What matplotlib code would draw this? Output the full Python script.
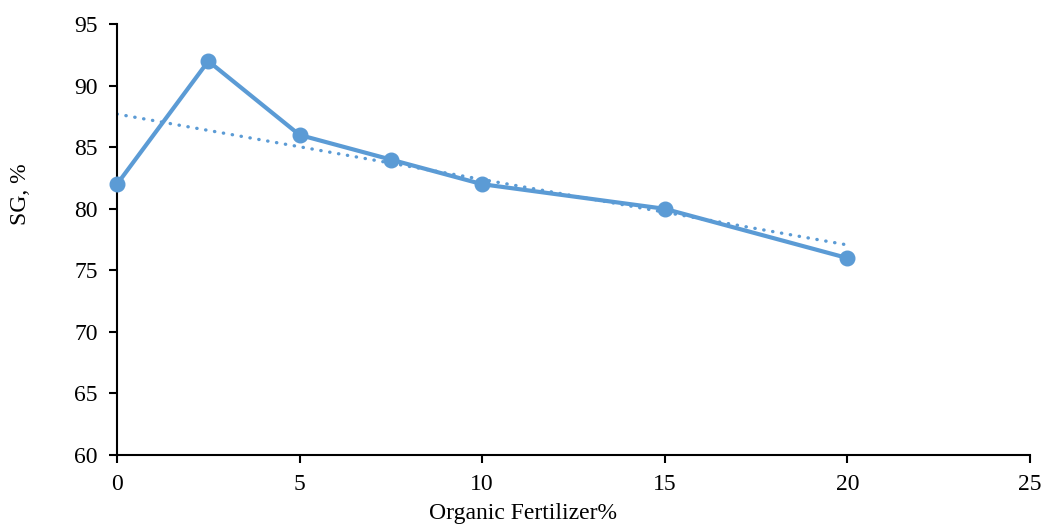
import numpy as np
import matplotlib.pyplot as plt

plt.rcParams['font.family'] = ['Liberation Serif', 'DejaVu Serif']

# Data
fertilizer = [0, 2.5, 5, 7.5, 10, 15, 20]
sg = [82, 92, 86, 84, 82, 80, 76]
x_ticks = [0, 5, 10, 15, 20, 25]
y_ticks = [60, 65, 70, 75, 80, 85, 90, 95]

color = '#5B9BD5'

fig = plt.figure(figsize=(10.43, 5.26), dpi=100)
ax = fig.add_axes([0.1122, 0.135, 0.8753, 0.819])

ax.plot(fertilizer, sg, color=color, lw=3, marker='o', markersize=10.5,
        zorder=3, clip_on=False)

# linear trend line
slope, intercept = np.polyfit(fertilizer, sg, 1)
xt = np.array([min(fertilizer), max(fertilizer)])
ax.plot(xt, slope * xt + intercept, color=color, lw=2.4, linestyle=(0, (0.1, 2.6)),
        dash_capstyle='round', zorder=2)

ax.set_xlim(0, 25)
ax.set_ylim(60, 95)
ax.set_xticks(x_ticks)
ax.set_yticks(y_ticks)
ax.tick_params(labelsize=17, length=6, width=1.5, direction='out')
ax.tick_params(axis='x', pad=8)
ax.tick_params(axis='y', pad=8)

for s in ['top', 'right']:
    ax.spines[s].set_visible(False)
for s in ['left', 'bottom']:
    ax.spines[s].set_linewidth(1.5)

fig.text(523 / 1043, 1 - 514 / 526, 'Organic Fertilizer%', fontsize=17,
         ha='center', va='center')
fig.text(20 / 1043, 1 - 194 / 526, 'SG, %', fontsize=17, rotation=90,
         ha='center', va='center')

fig.savefig('out.png', dpi=100)
